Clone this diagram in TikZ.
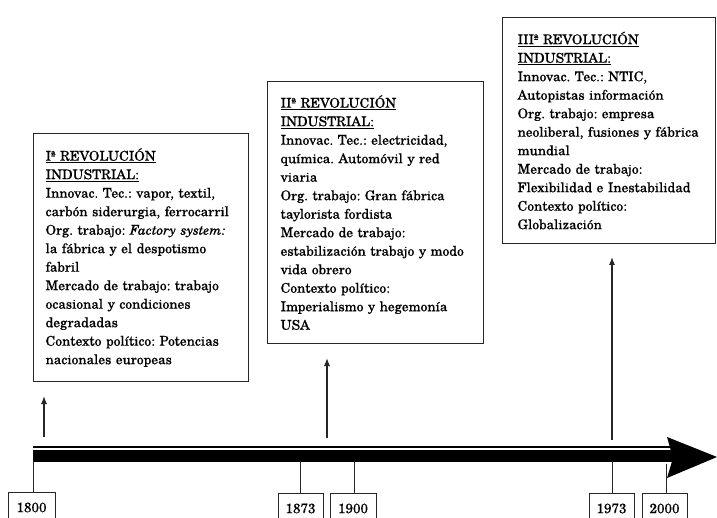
\documentclass[tikz,border=0pt]{standalone}
\usepackage{fontspec}
\setmainfont{TeX Gyre Schola}[FakeBold=0.35]
\usetikzlibrary{arrows.meta}
\frenchspacing
\begin{document}
\begin{tikzpicture}[x=1pt,y=-1pt,
  revbox/.style n args={3}{draw=black!85,line width=1.2pt,anchor=north west,align=left,
    text width=#1,inner xsep=#3,inner ysep=0pt,minimum height=#2,
    font=\fontsize{13.5}{18.5}\selectfont},
  conn/.style={draw=black!85,line width=1.1pt,-{Latex[length=8pt,width=6pt]}},
  tick/.style={draw=black!85,line width=1pt},
  yearbox/.style={draw=black!85,line width=1pt,anchor=north,minimum width=#1,
    minimum height=30pt,inner sep=0pt,font=\fontsize{13.5}{16}\selectfont},
  yearbox/.default=46pt
]
\useasboundingbox (0,0) rectangle (717,518);
\clip (0,0) rectangle (717,518);

% revolution boxes
\node[revbox={191pt}{248pt}{12pt}] (b1) at (33,133) {%
\underline{Iª REVOLUCIÓN}\\
\underline{INDUSTRIAL:}\\
Innovac. Tec.: vapor, textil,\\
carbón siderurgia, ferrocarril\\
Org. trabajo: \textit{Factory system:}\\
la fábrica y el despotismo\\
fabril\\
Mercado de trabajo: trabajo\\
ocasional y condiciones\\
degradadas\\
Contexto político: Potencias\\
nacionales europeas};

\node[revbox={190pt}{262pt}{13pt}] (b2) at (267,81) {%
\underline{IIª REVOLUCIÓN}\\
\underline{INDUSTRIAL:}\\
Innovac. Tec.: electricidad,\\
química. Automóvil y red\\
viaria\\
Org. trabajo: Gran fábrica\\
taylorista fordista\\
Mercado de trabajo:\\
estabilización trabajo y modo\\
vida obrero\\
Contexto político:\\
Imperialismo y hegemonía\\
USA};

\node[revbox={183pt}{226pt}{15pt}] (b3) at (502,17) {%
\underline{IIIª REVOLUCIÓN}\\
\underline{INDUSTRIAL:}\\
Innovac. Tec.: NTIC,\\
Autopistas información\\
Org. trabajo: empresa\\
neoliberal, fusiones y fábrica\\
mundial\\
Mercado de trabajo:\\
Flexibilidad e Inestabilidad\\
Contexto político:\\
Globalización};

% arrows up to the boxes
\coordinate (a1s) at (44,437);  \coordinate (a1e) at (44,396);
\coordinate (a2s) at (327,438); \coordinate (a2e) at (327,358);
\coordinate (a3s) at (612,440); \coordinate (a3e) at (612,257);
\draw[conn] (a1s) -- (a1e);
\draw[conn] (a2s) -- (a2e);
\draw[conn] (a3s) -- (a3e);

% timeline
\coordinate (tlstart) at (33,447);
\coordinate (tlend) at (676,447);
\draw[black,line width=1.2pt] (tlstart) -- (tlend);
\fill[black] (33,450) rectangle (676,461.5);
\fill[black] (667,437) -- (717,457) -- (667,478) -- (673,458) -- cycle;

% ticks and years
\coordinate (t1800) at (33,461);
\coordinate (t1873) at (300,461);
\coordinate (t1900) at (354,461);
\coordinate (t1973) at (612,461);
\coordinate (t2000) at (666,464);

\node[yearbox=47pt] (y1800) at (31.5,492) {1800};
\node[yearbox=45pt] (y1873) at (300.5,493) {1873};
\node[yearbox=46pt] (y1900) at (353,493) {1900};
\node[yearbox=45pt] (y1973) at (611.5,493) {1973};
\node[yearbox=45pt] (y2000) at (664.5,493) {2000};

\draw[tick] (t1800) -- (t1800 |- y1800.north);
\draw[tick] (t1873) -- (t1873 |- y1873.north);
\draw[tick] (t1900) -- (t1900 |- y1900.north);
\draw[tick] (t1973) -- (t1973 |- y1973.north);
\draw[tick] (t2000) -- (t2000 |- y2000.north);
\end{tikzpicture}
\end{document}
